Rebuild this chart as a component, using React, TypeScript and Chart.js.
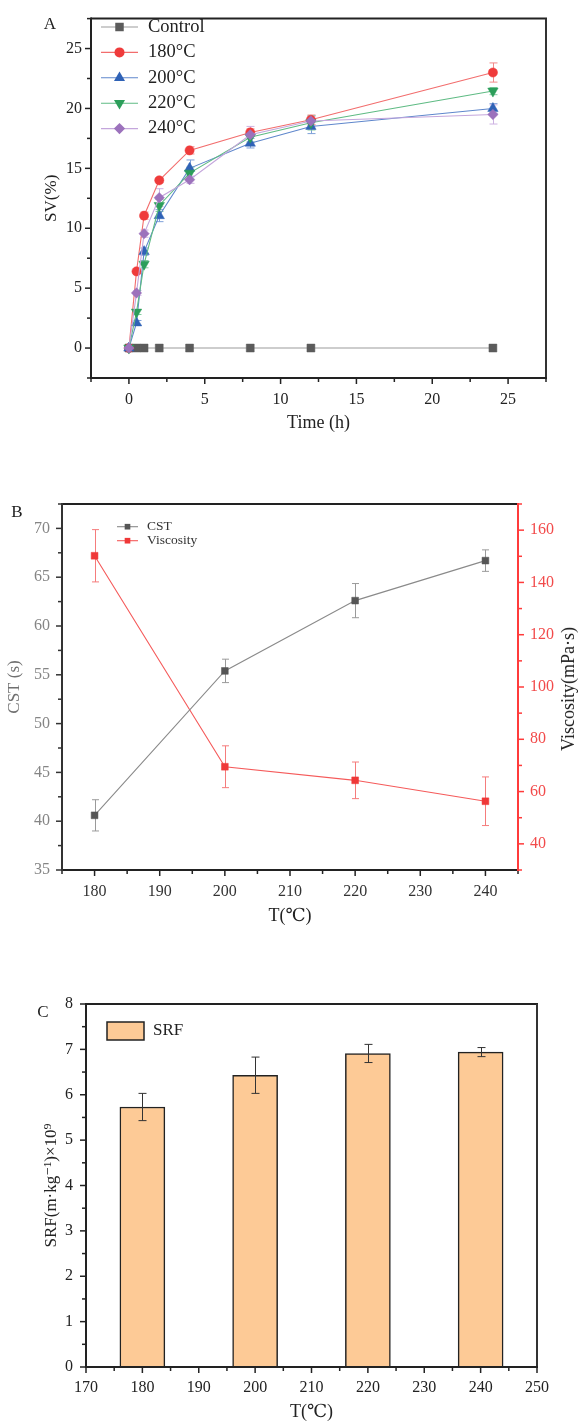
import React, { useEffect, useRef } from 'react';
import { Chart, registerables } from 'chart.js';

Chart.register(...registerables);

const FONT = "'Liberation Serif', 'DejaVu Serif', 'Noto Sans CJK SC', serif";

// ---------------- Panel A : SV (%) vs time ----------------
const TIME_H = [0, 0.5, 1, 2, 4, 8, 12, 24];
const A_LABELS = ['Control', '180°C', '200°C', '220°C', '240°C'];
const SV_CONTROL = [0, 0, 0, 0, 0, 0, 0, 0];
const SV_180 = [0, 6.4, 11.05, 14.0, 16.5, 18.0, 19.05, 23.0];
const SV_200 = [0, 2.1, 8.05, 11.05, 15.0, 17.1, 18.5, 20.0];
const SV_220 = [0, 3.0, 7.0, 11.9, 14.6, 17.6, 18.8, 21.45];
const SV_240 = [0, 4.6, 9.55, 12.55, 14.05, 17.8, 18.95, 19.5];
const ERR_CONTROL = [0, 0, 0, 0, 0, 0, 0, 0];
const ERR_180 = [0, 0.2, 0.3, 0.2, 0.3, 0.3, 0.4, 0.8];
const ERR_200 = [0, 0.2, 0.3, 0.5, 0.7, 0.4, 0.6, 0.4];
const ERR_220 = [0, 0.2, 0.3, 0.5, 0.5, 0.4, 0.6, 0.3];
const ERR_240 = [0, 0.2, 0.3, 0.75, 0.3, 0.7, 0.4, 0.8];
const A_X_TICKS = [0, 5, 10, 15, 20, 25];
const A_Y_TICKS = [0, 5, 10, 15, 20, 25];

// ---------------- Panel B : CST and viscosity vs T ----------------
const T_B = [180, 200, 220, 240];
const CST_S = [40.6, 55.4, 62.6, 66.7];
const CST_ERR = [1.6, 1.2, 1.75, 1.1];
const VISC_MPAS = [150.2, 69.5, 64.3, 56.3];
const VISC_ERR = [10, 8, 7, 9.3];
const B_X_TICKS = [180, 190, 200, 210, 220, 230, 240];
const B_Y_TICKS = [35, 40, 45, 50, 55, 60, 65, 70];
const B_Y1_TICKS = [40, 60, 80, 100, 120, 140, 160];

// ---------------- Panel C : SRF vs T ----------------
const T_C = [180, 200, 220, 240];
const SRF = [5.73, 6.43, 6.91, 6.94];
const SRF_ERR = [0.3, 0.4, 0.2, 0.1];
const C_X_TICKS = [170, 180, 190, 200, 210, 220, 230, 240, 250];
const C_Y_TICKS = [0, 1, 2, 3, 4, 5, 6, 7, 8];

// ---------------- helpers / plugins ----------------
function drawMarker(ctx: CanvasRenderingContext2D, style: string, x: number, y: number, r: number, rotDeg: number, fill: string) {
  ctx.beginPath();
  const rad = (rotDeg * Math.PI) / 180;
  if (style === 'circle') {
    ctx.arc(x, y, r, 0, Math.PI * 2);
  } else if (style === 'rect') {
    const s = r * Math.SQRT1_2;
    ctx.rect(x - s, y - s, 2 * s, 2 * s);
  } else if (style === 'triangle') {
    let a = rad;
    for (let k = 0; k < 3; k++) {
      const px = x + Math.sin(a) * r;
      const py = y - Math.cos(a) * r;
      if (k === 0) ctx.moveTo(px, py);
      else ctx.lineTo(px, py);
      a += (2 * Math.PI) / 3;
    }
    ctx.closePath();
  } else if (style === 'rectRot') {
    ctx.moveTo(x, y - r);
    ctx.lineTo(x + r, y);
    ctx.lineTo(x, y + r);
    ctx.lineTo(x - r, y);
    ctx.closePath();
  }
  ctx.fillStyle = fill;
  ctx.fill();
}

function drawErrors(chart: any) {
  const ctx = chart.ctx as CanvasRenderingContext2D;
  chart.data.datasets.forEach((ds: any, i: number) => {
    if (!ds.errorBars) return;
    const meta = chart.getDatasetMeta(i);
    const ys = chart.scales[meta.yAxisID];
    ctx.save();
    ctx.strokeStyle = ds.errorColor;
    ctx.lineWidth = ds.errorWidth || 1;
    meta.data.forEach((el: any, j: number) => {
      const e = ds.errorBars[j];
      if (!e) return;
      const raw = ds.data[j];
      const v = typeof raw === 'number' ? raw : raw.y;
      const x = Math.round(el.x) + 0.5;
      const y1 = ys.getPixelForValue(v + e);
      const y2 = ys.getPixelForValue(v - e);
      const c = ds.errorCap || 4;
      ctx.beginPath();
      ctx.moveTo(x, y1);
      ctx.lineTo(x, y2);
      ctx.moveTo(x - c, y1);
      ctx.lineTo(x + c, y1);
      ctx.moveTo(x - c, y2);
      ctx.lineTo(x + c, y2);
      ctx.stroke();
    });
    ctx.restore();
  });
}

const errorBarsPlugin = {
  id: 'errorBars',
  beforeDatasetsDraw(chart: any, _a: any, o: any) {
    if (!(o && o.onTop)) drawErrors(chart);
  },
  afterDatasetsDraw(chart: any, _a: any, o: any) {
    if (o && o.onTop) drawErrors(chart);
  },
};

const axisDecorPlugin = {
  id: 'axisDecor',
  afterDraw(chart: any, _a: any, o: any) {
    if (!o) return;
    const ctx = chart.ctx as CanvasRenderingContext2D;
    const ca = chart.chartArea;
    ctx.save();
    (o.frame || []).forEach((f: any) => {
      ctx.strokeStyle = f.color;
      ctx.lineWidth = f.width;
      ctx.beginPath();
      if (f.side === 'top') {
        ctx.moveTo(ca.left, ca.top);
        ctx.lineTo(ca.right + f.width / 2, ca.top);
      } else if (f.side === 'right') {
        ctx.moveTo(ca.right, ca.top);
        ctx.lineTo(ca.right, ca.bottom);
      }
      ctx.stroke();
    });
    (o.axes || []).forEach((a: any) => {
      const s = chart.scales[a.id];
      ctx.strokeStyle = a.color;
      ctx.lineWidth = a.width;
      ctx.beginPath();
      if (a.side === 'left') {
        ctx.moveTo(ca.left, ca.top - a.width / 2);
        ctx.lineTo(ca.left, ca.bottom + a.width / 2);
      } else if (a.side === 'right') {
        ctx.moveTo(ca.right, ca.top - a.width / 2);
        ctx.lineTo(ca.right, ca.bottom + a.width / 2);
      } else {
        ctx.moveTo(ca.left - a.width / 2, ca.bottom);
        ctx.lineTo(ca.right + a.width / 2, ca.bottom);
      }
      ctx.stroke();
      ctx.lineWidth = a.tickWidth;
      const majors: number[] = a.major;
      const step: number = a.minorStep;
      let v = majors[0];
      while (v - step >= s.min - 1e-9) v -= step;
      for (; v <= s.max + 1e-9; v += step) {
        const isMajor = majors.some((m) => Math.abs(m - v) < 1e-6);
        const len = isMajor ? a.majorLen : a.minorLen;
        const p = s.getPixelForValue(v);
        ctx.beginPath();
        if (a.side === 'left') {
          ctx.moveTo(ca.left, p);
          ctx.lineTo(ca.left - len, p);
        } else if (a.side === 'right') {
          ctx.moveTo(ca.right, p);
          ctx.lineTo(ca.right + len, p);
        } else {
          ctx.moveTo(p, ca.bottom);
          ctx.lineTo(p, ca.bottom + len);
        }
        ctx.stroke();
      }
    });
    ctx.restore();
  },
};

const customLegendPlugin = {
  id: 'customLegend',
  afterDraw(chart: any, _a: any, o: any) {
    if (!o || !o.show) return;
    const ctx = chart.ctx as CanvasRenderingContext2D;
    ctx.save();
    chart.data.datasets.forEach((ds: any, i: number) => {
      const y = o.y + i * o.rowH;
      if (o.kind === 'box') {
        ctx.fillStyle = ds.backgroundColor;
        ctx.fillRect(o.x, y - o.boxH / 2, o.lineLen, o.boxH);
        ctx.strokeStyle = ds.borderColor;
        ctx.lineWidth = 1.5;
        ctx.strokeRect(o.x, y - o.boxH / 2, o.lineLen, o.boxH);
      } else {
        ctx.strokeStyle = ds.borderColor;
        ctx.lineWidth = ds.borderWidth;
        ctx.beginPath();
        ctx.moveTo(o.x, y);
        ctx.lineTo(o.x + o.lineLen, y);
        ctx.stroke();
        drawMarker(ctx, ds.pointStyle, o.x + o.lineLen / 2, y, ds.pointRadius + (o.markerGrow || 0), ds.pointRotation || 0, ds.pointBackgroundColor);
      }
      ctx.fillStyle = o.color;
      ctx.font = o.font;
      ctx.textBaseline = 'middle';
      ctx.textAlign = 'left';
      ctx.fillText(ds.label, o.textX, y);
    });
    ctx.restore();
  },
};

const PLUGINS = [errorBarsPlugin, axisDecorPlugin, customLegendPlugin];

function tickFont(size = 16) {
  return { family: FONT, size, lineHeight: 1.2 };
}

function setTicks(values: number[]) {
  return (scale: any) => {
    scale.ticks = values.map((v) => ({ value: v }));
  };
}

// ---------------- chart configs ----------------
function configA(): any {
  const series = [
    { label: A_LABELS[0], data: SV_CONTROL, err: ERR_CONTROL, fill: '#5b5b5b', line: '#9c9c9c', errC: '#aaaaaa', style: 'rect', rot: 0, r: 5.6 },
    { label: A_LABELS[1], data: SV_180, err: ERR_180, fill: '#ef3b3b', line: '#f26d6d', errC: '#f28a8a', style: 'circle', rot: 0, r: 4.6 },
    { label: A_LABELS[2], data: SV_200, err: ERR_200, fill: '#2f62b6', line: '#5f87cc', errC: '#7d9fd8', style: 'triangle', rot: 0, r: 6 },
    { label: A_LABELS[3], data: SV_220, err: ERR_220, fill: '#2c9e5a', line: '#5fbb84', errC: '#84cca0', style: 'triangle', rot: 180, r: 6 },
    { label: A_LABELS[4], data: SV_240, err: ERR_240, fill: '#9c72bc', line: '#c4a6dc', errC: '#cdb2e2', style: 'rectRot', rot: 0, r: 5.2 },
  ];
  return {
    type: 'line',
    data: {
      datasets: series.map((s, i) => ({
        label: s.label,
        data: TIME_H.map((t, j) => ({ x: t, y: s.data[j] })),
        borderColor: s.line,
        borderWidth: 1.1,
        pointStyle: s.style,
        pointRotation: s.rot,
        pointRadius: s.r,
        pointBackgroundColor: s.fill,
        pointBorderColor: s.fill,
        pointBorderWidth: 0.5,
        tension: 0,
        order: 4 - i,
        errorBars: s.err,
        errorColor: s.errC,
        errorCap: 4,
      })),
    },
    options: {
      responsive: false,
      animation: false,
      devicePixelRatio: 1,
      layout: { padding: { top: 13, right: 33, left: 0, bottom: 0 } },
      plugins: {
        legend: { display: false },
        tooltip: { enabled: false },
        errorBars: { onTop: false },
        axisDecor: {
          frame: [
            { side: 'top', color: '#222', width: 2 },
            { side: 'right', color: '#333', width: 2 },
          ],
          axes: [
            { id: 'x', side: 'bottom', color: '#222', width: 2, tickWidth: 1.5, major: A_X_TICKS, minorStep: 2.5, majorLen: 6, minorLen: 4 },
            { id: 'y', side: 'left', color: '#222', width: 2, tickWidth: 1.5, major: A_Y_TICKS, minorStep: 2.5, majorLen: 6, minorLen: 4 },
          ],
        },
        customLegend: { show: true, kind: 'line', x: 101, y: 27, rowH: 25.4, lineLen: 37, textX: 148, font: `18.5px ${FONT}`, color: '#222', markerGrow: 0.4 },
      },
      scales: {
        x: {
          type: 'linear',
          min: -2.5,
          max: 27.5,
          afterBuildTicks: setTicks(A_X_TICKS),
          afterFit: (s: any) => { s.height = 72; },
          grid: { display: false, drawTicks: false, tickLength: 0 },
          border: { display: false },
          ticks: { font: tickFont(16), color: '#222', padding: 12, maxRotation: 0, autoSkip: false },
          title: { display: true, text: 'Time (h)', font: { family: FONT, size: 18, lineHeight: 1 }, color: '#222', padding: { top: 0, bottom: 18 } },
        },
        y: {
          type: 'linear',
          min: -2.5,
          max: 27.5,
          afterBuildTicks: setTicks(A_Y_TICKS),
          afterFit: (s: any) => { s.width = 91; },
          grid: { display: false, drawTicks: false, tickLength: 0 },
          border: { display: false },
          ticks: { font: tickFont(16), color: '#222', padding: 9, autoSkip: false },
          title: { display: true, text: 'SV(%)', font: { family: FONT, size: 17, lineHeight: 1 }, color: '#222', padding: { top: 43, bottom: 0 } },
        },
      },
    },
    plugins: PLUGINS,
  };
}

function configB(): any {
  return {
    type: 'line',
    data: {
      datasets: [
        {
          label: 'CST',
          yAxisID: 'y',
          data: T_B.map((t, j) => ({ x: t, y: CST_S[j] })),
          borderColor: '#8a8a8a',
          borderWidth: 1.1,
          pointStyle: 'rect',
          pointRadius: 4.8,
          pointBackgroundColor: '#565656',
          pointBorderColor: '#565656',
          pointBorderWidth: 0.5,
          tension: 0,
          errorBars: CST_ERR,
          errorColor: '#9a9a9a',
          errorCap: 3.5,
        },
        {
          label: 'Viscosity',
          yAxisID: 'y1',
          data: T_B.map((t, j) => ({ x: t, y: VISC_MPAS[j] })),
          borderColor: '#f55a5a',
          borderWidth: 1.1,
          pointStyle: 'rect',
          pointRadius: 4.8,
          pointBackgroundColor: '#ef3838',
          pointBorderColor: '#ef3838',
          pointBorderWidth: 0.5,
          tension: 0,
          errorBars: VISC_ERR,
          errorColor: '#f57c7c',
          errorCap: 3.5,
        },
      ],
    },
    options: {
      responsive: false,
      animation: false,
      devicePixelRatio: 1,
      layout: { padding: { top: 54, right: 0, left: 0, bottom: 0 } },
      plugins: {
        legend: { display: false },
        tooltip: { enabled: false },
        errorBars: { onTop: false },
        axisDecor: {
          frame: [{ side: 'top', color: '#222', width: 2 }],
          axes: [
            { id: 'x', side: 'bottom', color: '#222', width: 2, tickWidth: 1.5, major: B_X_TICKS, minorStep: 5, majorLen: 6, minorLen: 4 },
            { id: 'y', side: 'left', color: '#333', width: 2, tickWidth: 1.5, major: B_Y_TICKS, minorStep: 2.5, majorLen: 6, minorLen: 4 },
            { id: 'y1', side: 'right', color: '#ff3b3b', width: 2, tickWidth: 1.5, major: B_Y1_TICKS, minorStep: 10, majorLen: 6, minorLen: 4 },
          ],
        },
        customLegend: { show: true, kind: 'line', x: 117, y: 76.7, rowH: 14, lineLen: 21, textX: 147, font: `13.5px ${FONT}`, color: '#333', markerGrow: -0.8 },
      },
      scales: {
        x: {
          type: 'linear',
          min: 175,
          max: 245,
          afterBuildTicks: setTicks(B_X_TICKS),
          afterFit: (s: any) => { s.height = 70; },
          grid: { display: false, drawTicks: false, tickLength: 0 },
          border: { display: false },
          ticks: { font: tickFont(16), color: '#333', padding: 12, maxRotation: 0, autoSkip: false },
          title: { display: true, text: 'T(℃)', font: { family: FONT, size: 18, lineHeight: 1 }, color: '#222', padding: { top: 0, bottom: 15 } },
        },
        y: {
          type: 'linear',
          position: 'left',
          min: 35,
          max: 72.5,
          afterBuildTicks: setTicks(B_Y_TICKS),
          afterFit: (s: any) => { s.width = 62; },
          grid: { display: false, drawTicks: false, tickLength: 0 },
          border: { display: false },
          ticks: { font: tickFont(16), color: '#858585', padding: 12, autoSkip: false },
          title: { display: true, text: 'CST (s)', font: { family: FONT, size: 17, lineHeight: 1 }, color: '#707070', padding: { top: 6, bottom: 0 } },
        },
        y1: {
          type: 'linear',
          position: 'right',
          min: 30,
          max: 170,
          afterBuildTicks: setTicks(B_Y1_TICKS),
          afterFit: (s: any) => { s.width = 61; },
          grid: { display: false, drawTicks: false, tickLength: 0 },
          border: { display: false },
          ticks: { font: tickFont(16), color: '#f24a4a', padding: 12, autoSkip: false },
          title: { display: false },
        },
      },
    },
    plugins: PLUGINS,
  };
}

function configC(): any {
  return {
    type: 'bar',
    data: {
      datasets: [
        {
          label: 'SRF',
          data: T_C.map((t, j) => ({ x: t, y: SRF[j] })),
          backgroundColor: '#fdca96',
          borderColor: '#222',
          borderWidth: 1.5,
          barThickness: 45,
          errorBars: SRF_ERR,
          errorColor: '#333',
          errorCap: 4,
        },
      ],
    },
    options: {
      responsive: false,
      animation: false,
      devicePixelRatio: 1,
      layout: { padding: { top: 64, right: 42, left: 0, bottom: 0 } },
      plugins: {
        legend: { display: false },
        tooltip: { enabled: false },
        errorBars: { onTop: true },
        axisDecor: {
          frame: [
            { side: 'top', color: '#222', width: 2 },
            { side: 'right', color: '#333', width: 2 },
          ],
          axes: [
            { id: 'x', side: 'bottom', color: '#222', width: 2, tickWidth: 1.5, major: C_X_TICKS, minorStep: 5, majorLen: 6, minorLen: 4 },
            { id: 'y', side: 'left', color: '#222', width: 2, tickWidth: 1.5, major: C_Y_TICKS, minorStep: 0.5, majorLen: 6, minorLen: 4 },
          ],
        },
        customLegend: { show: true, kind: 'box', x: 107, y: 91, rowH: 20, lineLen: 37, boxH: 18, textX: 153, font: `17px ${FONT}`, color: '#222' },
      },
      scales: {
        x: {
          type: 'linear',
          offset: false,
          min: 170,
          max: 250,
          afterBuildTicks: setTicks(C_X_TICKS),
          afterFit: (s: any) => { s.height = 54; },
          grid: { display: false, drawTicks: false, tickLength: 0, offset: false },
          border: { display: false },
          ticks: { font: tickFont(16), color: '#222', padding: 11, maxRotation: 0, autoSkip: false },
          title: { display: true, text: 'T(℃)', font: { family: FONT, size: 18, lineHeight: 1 }, color: '#222', padding: { top: 0, bottom: 0 } },
        },
        y: {
          type: 'linear',
          min: 0,
          max: 8,
          afterBuildTicks: setTicks(C_Y_TICKS),
          afterFit: (s: any) => { s.width = 86; },
          grid: { display: false, drawTicks: false, tickLength: 0 },
          border: { display: false },
          ticks: { font: tickFont(16), color: '#222', padding: 13, autoSkip: false },
          title: { display: true, text: 'SRF(m·kg⁻¹)×10⁹', font: { family: FONT, size: 17, lineHeight: 1 }, color: '#222', padding: { top: 43, bottom: 0 } },
        },
      },
    },
    plugins: PLUGINS,
  };
}

function ChartCanvas({ top, height, make }: { top: number; height: number; make: () => any }) {
  const ref = useRef<HTMLCanvasElement | null>(null);
  useEffect(() => {
    if (!ref.current) return;
    const chart = new Chart(ref.current, make());
    return () => chart.destroy();
  }, [make]);
  return (
    <canvas
      ref={ref}
      width={579}
      height={height}
      style={{ position: 'absolute', left: 0, top, width: 579, height, display: 'block' }}
    />
  );
}

const letterStyle = (cx: number, cy: number): React.CSSProperties => ({
  position: 'absolute',
  left: cx - 10,
  top: cy - 10,
  width: 20,
  height: 20,
  lineHeight: '20px',
  textAlign: 'center',
  font: `17px ${FONT}`,
  color: '#222',
});

export default function App() {
  return (
    <div style={{ position: 'absolute', left: 0, top: 0, width: 579, height: 1421, background: '#fff', overflow: 'hidden' }}>
      <ChartCanvas top={0} height={450} make={configA} />
      <ChartCanvas top={450} height={490} make={configB} />
      <ChartCanvas top={940} height={481} make={configC} />
      <div style={letterStyle(50, 24)}>A</div>
      <div style={letterStyle(17, 512)}>B</div>
      <div style={letterStyle(43, 1012)}>C</div>
      <div
        style={{
          position: 'absolute',
          left: 568,
          top: 689,
          transform: 'translate(-50%, -50%) rotate(-90deg)',
          whiteSpace: 'nowrap',
          font: `18px ${FONT}`,
          lineHeight: '18px',
          color: '#222',
        }}
      >
        Viscosity(mPa·s)
      </div>
    </div>
  );
}
